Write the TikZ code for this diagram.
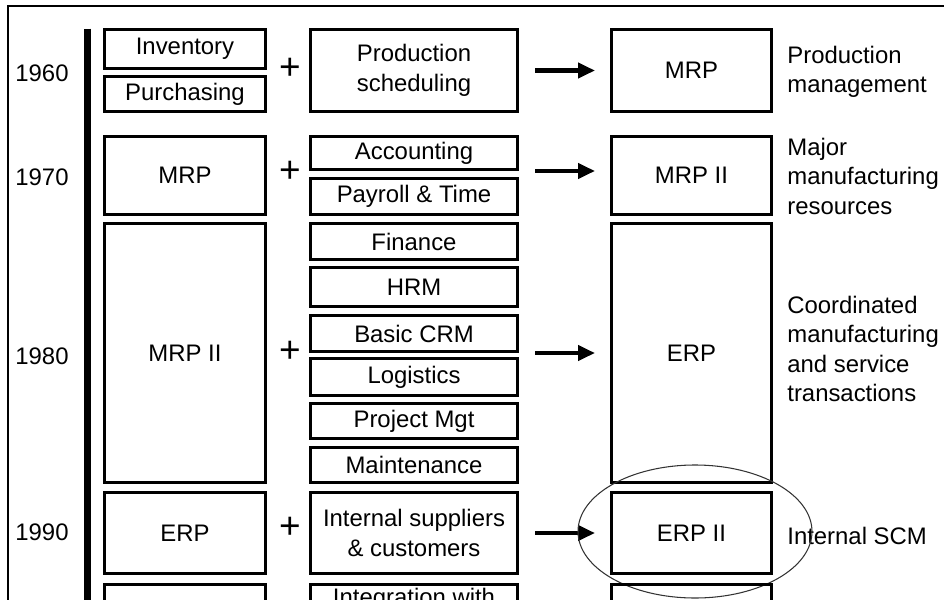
\documentclass[tikz,border=0pt]{standalone}
\usepackage{fontspec}
\setmainfont{Liberation Sans}
\usetikzlibrary{arrows.meta}
\begin{document}
\begin{tikzpicture}[box/.style={draw,line width=1.7pt,align=center,inner sep=0pt,font=\fontsize{13.6}{16.8}\selectfont},
 lcol/.style={box,minimum width=3.22cm},mcol/.style={box,minimum width=4.14cm},rcol/.style={box,minimum width=3.2cm},
 year/.style={font=\fontsize{13.6}{16.8}\selectfont},
 note/.style={align=left,anchor=west,inner sep=0pt,font=\fontsize{13.6}{16.8}\selectfont},
 plus/.style={inner sep=0pt,font=\fontsize{21}{21}\selectfont},
 >={Triangle[length=3.4mm,width=3mm]},
 flow/.style={->,line width=2.4pt,shorten <=.32cm,shorten >=.3cm}]
\useasboundingbox (0,0) rectangle (18.88,-11.98);
\clip (0,0) rectangle (18.88,-11.98);
% frame and time bar
\draw[line width=1.3pt] (0.16,-13) |- (19.5,-0.12);
\draw[line width=4pt] (1.75,-0.57) -- (1.75,-13);
% 1960
\node[year] (y60) at (0.84,-1.46) {1960};
\node[lcol,minimum height=.78cm] (inventory) at (3.70,-0.98) {Inventory};
\node[lcol,minimum height=.70cm] (purchasing) at (3.70,-1.88) {Purchasing};
\node[plus] (p60) at (5.80,-1.38) {+};
\node[mcol,minimum height=1.64cm] (prodsched) at (8.28,-1.41) {Production\\scheduling};
\node[rcol,minimum height=1.64cm] (mrp) at (13.83,-1.41) {MRP};
\node[note] (n60) at (15.74,-1.44) {Production\\management};
\draw[flow] (prodsched) -- (mrp);
% 1970
\node[year] (y70) at (0.84,-3.54) {1970};
\node[lcol,minimum height=1.56cm] (mrp70) at (3.70,-3.51) {MRP};
\node[plus] (p70) at (5.80,-3.44) {+};
\node[mcol,minimum height=.66cm] (accounting) at (8.28,-3.06) {Accounting};
\node[mcol,minimum height=.72cm] (payroll) at (8.28,-3.93) {Payroll \& Time};
\node[rcol,minimum height=1.56cm] (mrpii) at (13.83,-3.51) {MRP II};
\node[note] (n70) at (15.74,-3.52) {Major\\manufacturing\\resources};
\draw[flow] (accounting.south east) -- (accounting.south east -| mrpii.west);
% 1980
\node[year] (y80) at (0.84,-7.12) {1980};
\node[lcol,minimum height=5.18cm] (mrpii80) at (3.70,-7.06) {MRP II};
\node[plus] (p80) at (5.80,-7.04) {+};
\node[mcol,minimum height=.72cm] (finance) at (8.28,-4.83) {Finance};
\node[mcol,minimum height=.78cm] (hrm) at (8.28,-5.74) {HRM};
\node[mcol,minimum height=.72cm] (crm) at (8.28,-6.67) {Basic CRM};
\node[mcol,minimum height=.74cm] (logistics) at (8.28,-7.54) {Logistics};
\node[mcol,minimum height=.70cm] (projmgt) at (8.28,-8.42) {Project Mgt};
\node[mcol,minimum height=.70cm] (maintenance) at (8.28,-9.30) {Maintenance};
\node[rcol,minimum height=5.18cm] (erp) at (13.83,-7.06) {ERP};
\node[note] (n80) at (15.74,-6.98) {Coordinated\\manufacturing\\and service\\transactions};
\draw[flow] (crm.east |- erp.west) -- (erp.west);
% 1990
\node[year] (y90) at (0.84,-10.64) {1990};
\node[lcol,minimum height=1.62cm] (erp90) at (3.70,-10.66) {ERP};
\node[plus] (p90) at (5.80,-10.56) {+};
\node[mcol,minimum height=1.62cm] (suppliers) at (8.28,-10.66) {Internal suppliers\\\& customers};
\node[rcol,minimum height=1.62cm] (erpii) at (13.83,-10.66) {ERP II};
\node[note] (n90) at (15.74,-10.72) {Internal SCM};
\draw[flow] (suppliers) -- (erpii);
\draw[line width=.6pt,black!80] ([xshift=.07cm,yshift=.03cm]erpii.center) ellipse [x radius=2.34cm,y radius=1.33cm];
% next row, cut off
\node[lcol,anchor=north,minimum height=2cm] (row5l) at (3.70,-11.66) {};
\node[mcol,anchor=north,minimum height=2cm] (row5m) at (8.28,-11.66) {};
\node[rcol,anchor=north,minimum height=2cm] (row5r) at (13.83,-11.66) {};
\node[anchor=north,inner sep=0pt,font=\fontsize{13.6}{16.8}\selectfont] (integration) at ([yshift=-.1cm]row5m.north) {Integration with};
\end{tikzpicture}
\end{document}
